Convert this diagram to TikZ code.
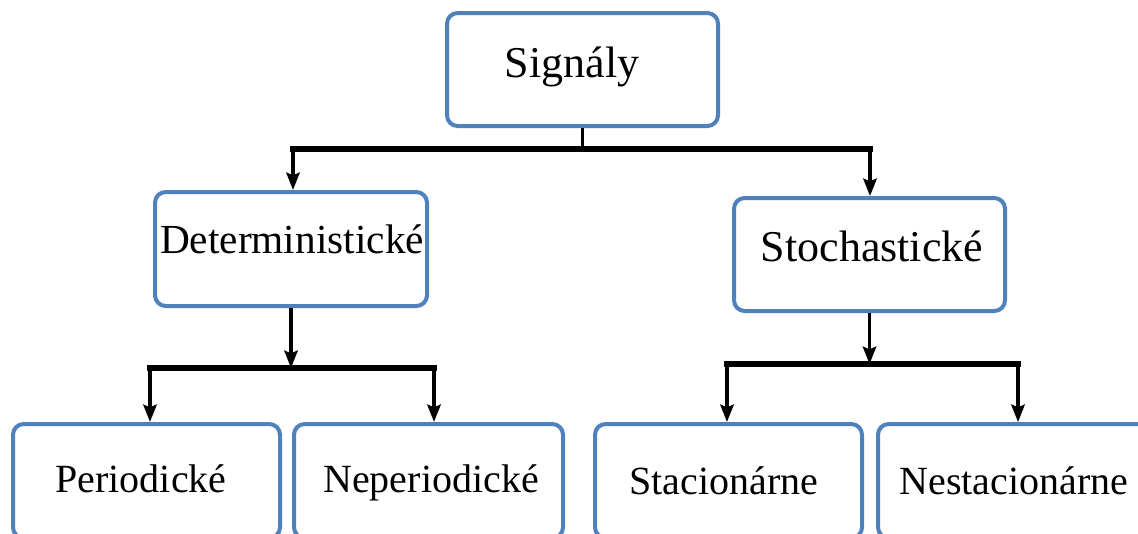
\documentclass[tikz,border=0pt]{standalone}
\usepackage{fontspec}
\setmainfont{Liberation Serif}
\usetikzlibrary{arrows.meta,calc}
\definecolor{boxblue}{RGB}{79,129,189}
\tikzset{
  box/.style={draw=boxblue, line width=3pt, rounded corners=8pt, fill=white, inner sep=0pt},
  lbl/.style={anchor=base, inner sep=0pt, text=black},
  stem/.style={draw=black, line width=2.2pt},
  bar/.style={draw=black, line width=3.8pt, line cap=rect},
  arr/.style={draw=black, line width=2.6pt, -{Stealth[length=13pt,width=10pt,inset=2pt]}},
}
\begin{document}
\begin{tikzpicture}[x=0.75pt,y=-0.75pt]
\useasboundingbox (0,0) rectangle (1138,533);
\begin{scope}
\clip (0,0) rectangle (1138,533);
% boxes
\node[box, minimum width=271*0.75pt, minimum height=113*0.75pt] (sig) at (582.5,69.5) {};
\node[box, minimum width=272*0.75pt, minimum height=114*0.75pt] (det) at (291,249) {};
\node[box, minimum width=271*0.75pt, minimum height=113*0.75pt] (sto) at (869.5,254.5) {};
\node[box, minimum width=267*0.75pt, minimum height=114*0.75pt] (per) at (146.5,481) {};
\node[box, minimum width=269*0.75pt, minimum height=114*0.75pt] (nep) at (428.5,481) {};
\node[box, minimum width=267*0.75pt, minimum height=114*0.75pt] (sta) at (728.5,481) {};
\node[box, minimum width=270*0.75pt, minimum height=114*0.75pt] (nst) at (1013,481) {};
% labels
\node[lbl, font=\fontsize{33}{36}\selectfont] (tsig) at (572,77) {Signály};
\node[lbl, font=\fontsize{31}{36}\selectfont] (tdet) at (292,253) {Deterministické};
\node[lbl, font=\fontsize{33}{36}\selectfont] (tsto) at (872,261) {Stochastické};
\node[lbl, font=\fontsize{30}{34}\selectfont] (tper) at (141,492) {Periodické};
\node[lbl, font=\fontsize{30}{34}\selectfont] (tnep) at (431,492) {Neperiodické};
\node[lbl, font=\fontsize{30}{34}\selectfont] (tsta) at (724,494) {Stacionárne};
\node[lbl, font=\fontsize{30}{34}\selectfont] (tnst) at (1014,494) {Nestacionárne};
% arrow targets
\coordinate (dtop) at ($(det.north)+(2,0)$);
\coordinate (stop) at ($(sto.north)+(0.5,0)$);
\coordinate (ptop) at ($(per.north)+(3.5,0)$);
\coordinate (ntop) at ($(nep.north)+(5.5,0)$);
\coordinate (atop) at ($(sta.north)+(-1.5,0)$);
\coordinate (btop) at ($(nst.north)+(5,0)$);
% connectors level 1
\coordinate (j1) at ($(sig.south)+(0,21)$);
\draw[stem] (sig.south) -- (j1);
\draw[bar] (dtop |- j1) -- (stop |- j1);
\draw[arr] (dtop |- j1) -- (dtop);
\draw[arr] (stop |- j1) -- (stop);
% Deterministic branch
\coordinate (j2) at ($(det.south)+(0,60)$);
\draw[arr] (det.south) -- (j2);
\draw[bar] (ptop |- j2) -- (ntop |- j2);
\draw[arr] (ptop |- j2) -- (ptop);
\draw[arr] (ntop |- j2) -- (ntop);
% Stochastic branch
\coordinate (j3) at ($(sto.south)+(0,51)$);
\draw[arr] (sto.south) -- (j3);
\draw[bar] (atop |- j3) -- (btop |- j3);
\draw[arr] (atop |- j3) -- (atop);
\draw[arr] (btop |- j3) -- (btop);
\end{scope}
\end{tikzpicture}
\end{document}
